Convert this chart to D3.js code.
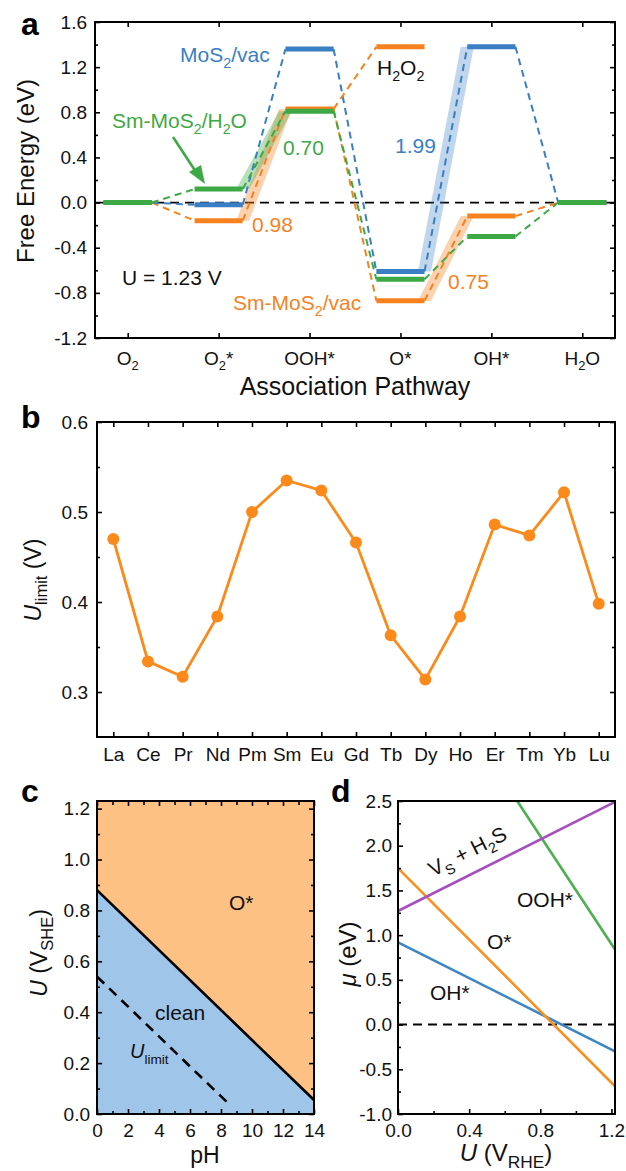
<!DOCTYPE html>
<html><head><meta charset="utf-8">
<script src="https://cdn.jsdelivr.net/npm/d3@7"></script>
<style>body{margin:0;background:#fff}svg{display:block}</style>
</head><body>
<svg id="chart" width="626" height="1171"></svg>
<script>
// ---------- DATA ----------
// panel a: free energy at U = 1.23 V
const steps = ["O2", "O2*", "OOH*", "O*", "OH*", "H2O"];
const stepLabels = [[["O"],["2",1]], [["O"],["2",1],["*"]], [["OOH*"]], [["O*"]], [["OH*"]], [["H"],["2",1],["O"]]];
const mos2Vac   = [0, -0.02, 1.36, -0.61, 1.38, 0];
const smMos2Vac = [0, -0.16, 0.83, -0.87, -0.12, 0];
const smMos2H2O = [0, 0.12, 0.81, -0.68, -0.30, 0];
const h2o2Level = 1.38;            // orange branch OOH* -> H2O2
const aYTicks = [-1.2, -0.8, -0.4, 0.0, 0.4, 0.8, 1.2, 1.6];
const aYMinor = [-1.0, -0.6, -0.2, 0.2, 0.6, 1.0, 1.4];

// panel b: limiting potential per lanthanide
const lanthanides = ["La","Ce","Pr","Nd","Pm","Sm","Eu","Gd","Tb","Dy","Ho","Er","Tm","Yb","Lu"];
const uLimit = [0.470, 0.334, 0.317, 0.384, 0.500, 0.535, 0.524, 0.466, 0.363, 0.314, 0.384, 0.486, 0.474, 0.522, 0.398];
const bYTicks = [0.3, 0.4, 0.5, 0.6];
const bYMinor = [0.35, 0.45, 0.55];

// panel c: Pourbaix diagram
const boundaryPH = [0, 14];
const boundaryU  = [0.88, 0.055];
const uLimitPH = [0, 8.5];
const uLimitU  = [0.54, 0.04];
const cXTicks = [0, 2, 4, 6, 8, 10, 12, 14];
const cXMinor = [1, 3, 5, 7, 9, 11, 13];
const cYTicks = [0.0, 0.2, 0.4, 0.6, 0.8, 1.0, 1.2];
const cYMinor = [0.1, 0.3, 0.5, 0.7, 0.9, 1.1];

// panel d: chemical potential vs U
const vsU  = [0, 1.22];       const vsMu  = [1.27, 2.49];   // V_S + H2S
const oohU = [0.67, 1.22];    const oohMu = [2.50, 0.84];   // OOH*
const oU   = [0, 1.22];       const oMu   = [1.75, -0.69];  // O*
const ohU  = [0, 1.22];       const ohMu  = [0.92, -0.30];  // OH*
const dXTicks = [0.0, 0.4, 0.8, 1.2];
const dXMinor = [0.2, 0.6, 1.0];
const dYTicks = [-1.0, -0.5, 0.0, 0.5, 1.0, 1.5, 2.0, 2.5];
const dYMinor = [-0.75, -0.25, 0.25, 0.75, 1.25, 1.75, 2.25];

// ---------- STYLE ----------
const FONT = "Arial, 'Liberation Sans', Helvetica, sans-serif";
const BLUE = "#3a7ec3", ORANGE = "#f6821f", GREEN = "#3da944";
const svg = d3.select("#chart");

function axis(gen, tx, ty, size) {
  const a = svg.append("g").attr("transform", `translate(${tx},${ty})`).call(gen);
  a.select(".domain").remove();
  a.selectAll(".tick line").attr("stroke", "#000").attr("stroke-width", 1.6);
  a.selectAll(".tick text").attr("font-size", size || 19).attr("font-family", FONT).attr("fill", "#111");
  return a;
}
function frame(x0, y0, x1, y1) {
  svg.append("rect").attr("x", x0).attr("y", y0).attr("width", x1 - x0).attr("height", y1 - y0)
    .attr("fill", "none").attr("stroke", "#000").attr("stroke-width", 2);
}
// rich text: parts = [[text, sub?, italic?], ...]
function rich(x, y, parts, size, color, opts) {
  opts = opts || {};
  const t = svg.append("text").attr("x", x).attr("y", y).attr("font-family", FONT)
    .attr("font-size", size).attr("fill", color || "#111")
    .attr("text-anchor", opts.anchor || "start");
  if (opts.weight) t.attr("font-weight", opts.weight);
  if (opts.rotate !== undefined) t.attr("transform", `rotate(${opts.rotate},${x},${y})`);
  let shift = 0;
  const subScale = opts.subScale || 0.68;
  parts.forEach(p => {
    const ts = t.append("tspan").text(p[0]);
    if (p[1]) {
      ts.attr("font-size", size * subScale).attr("dy", size * 0.28 - shift);
      shift = size * 0.28;
    } else if (shift) { ts.attr("dy", -shift); shift = 0; }
    if (p[2]) ts.attr("font-style", "italic");
  });
  return t;
}

// ================= PANEL A =================
const aL = 95, aR = 615, aT = 22, aB = 338;
const ax = d3.scalePoint().domain(steps).range([aL, aR]).padding(0.36);
const ay = d3.scaleLinear().domain([-1.2, 1.6]).range([aB, aT]);
const hw = ax.step() * 0.265;

// zero line
svg.append("line").attr("x1", aL).attr("x2", aR).attr("y1", ay(0)).attr("y2", ay(0))
  .attr("stroke", "#000").attr("stroke-width", 1.8).attr("stroke-dasharray", "9,6");

const series = [
  {v: smMos2Vac, c: ORANGE, bands: [1, 3]},
  {v: mos2Vac, c: BLUE, bands: [3]},
  {v: smMos2H2O, c: GREEN, bands: [1]}
];
// shaded rate-limiting bands
series.forEach(s => {
  s.bands.forEach(i => {
    const x0 = ax(steps[i]) + hw, x1 = ax(steps[i + 1]) - hw;
    const y0 = ay(s.v[i]), y1 = ay(s.v[i + 1]), w = 6.5;
    svg.append("polygon")
      .attr("points", [[x0 - w, y0], [x0 + w, y0], [x1 + w, y1], [x1 - w, y1]].map(p => p.join(",")).join(" "))
      .attr("fill", s.c).attr("opacity", s.c === BLUE ? 0.32 : 0.36);
  });
});
// dashed connectors
function connector(x0, v0, x1, v1, c) {
  svg.append("line").attr("x1", x0).attr("y1", ay(v0)).attr("x2", x1).attr("y2", ay(v1))
    .attr("stroke", c).attr("stroke-width", 2).attr("stroke-dasharray", "7,5");
}
series.forEach(s => {
  for (let i = 0; i < steps.length - 1; i++)
    connector(ax(steps[i]) + hw, s.v[i], ax(steps[i + 1]) - hw, s.v[i + 1], s.c);
});
connector(ax("OOH*") + hw, smMos2Vac[2], ax("O*") - hw, h2o2Level, ORANGE);
// levels
function level(xc, v, c) {
  svg.append("line").attr("x1", xc - hw).attr("x2", xc + hw).attr("y1", ay(v)).attr("y2", ay(v))
    .attr("stroke", c).attr("stroke-width", 5);
}
level(ax("O*"), h2o2Level, ORANGE);
series.forEach(s => s.v.forEach((v, i) => level(ax(steps[i]), v, s.c)));

// axes a
axis(d3.axisLeft(ay).tickValues(aYTicks).tickFormat(d => d.toFixed(1)).tickSizeInner(-5).tickSizeOuter(0).tickPadding(8), aL, 0);
axis(d3.axisLeft(ay).tickValues(aYMinor).tickFormat("").tickSizeInner(-3).tickSizeOuter(0), aL, 0);
axis(d3.axisRight(ay).tickValues(aYTicks).tickFormat("").tickSizeInner(-5).tickSizeOuter(0), aR, 0);
axis(d3.axisRight(ay).tickValues(aYMinor).tickFormat("").tickSizeInner(-3).tickSizeOuter(0), aR, 0);
axis(d3.axisBottom(ax).tickFormat("").tickSizeInner(-5).tickSizeOuter(0), 0, aB);
axis(d3.axisTop(ax).tickFormat("").tickSizeInner(-5).tickSizeOuter(0), 0, aT);
frame(aL, aT, aR, aB);
steps.forEach((s, i) => rich(ax(s), aB + 27, stepLabels[i].map(p => [p[0], p[1]]), 19, "#111", {anchor: "middle"}));
rich(aL + (aR - aL) / 2 + 0, 395, [["Association Pathway"]], 25, "#111", {anchor: "middle"});
rich(34, 171, [["Free Energy (eV)"]], 24, "#111", {anchor: "middle", rotate: -90});

// annotations a
rich(180, 62, [["MoS"], ["2", 1], ["/vac"]], 21, BLUE);
rich(112, 128, [["Sm-MoS"], ["2", 1], ["/H"], ["2", 1], ["O"]], 21, GREEN);
svg.append("line").attr("x1", 173).attr("y1", 137).attr("x2", 196).attr("y2", 172)
  .attr("stroke", GREEN).attr("stroke-width", 2.6);
svg.append("polygon").attr("points", "205,184 189,172 201,165").attr("fill", GREEN);
rich(283, 155, [["0.70"]], 21, GREEN);
rich(395, 153, [["1.99"]], 21, BLUE);
rich(377, 75, [["H"], ["2", 1], ["O"], ["2", 1]], 21, "#111");
rich(252, 232, [["0.98"]], 21, ORANGE);
rich(122, 285, [["U = 1.23 V"]], 21, "#111");
rich(233, 310, [["Sm-MoS"], ["2", 1], ["/vac"]], 21, ORANGE);
rich(448, 289, [["0.75"]], 21, ORANGE);
rich(21, 35, [["a"]], 32, "#000", {weight: "bold"});

// ================= PANEL B =================
const bL = 97, bR = 615, bT = 422, bB = 737;
const bx = d3.scalePoint().domain(lanthanides).range([bL, bR]).padding(0.47);
const by = d3.scaleLinear().domain([0.25, 0.6]).range([bB, bT]);
const BOR = "#fb8a1a";
svg.append("path").datum(uLimit)
  .attr("d", d3.line().x((d, i) => bx(lanthanides[i])).y(d => by(d)))
  .attr("fill", "none").attr("stroke", BOR).attr("stroke-width", 2.8);
svg.selectAll(".bdot").data(uLimit).enter().append("circle")
  .attr("cx", (d, i) => bx(lanthanides[i])).attr("cy", d => by(d)).attr("r", 6).attr("fill", BOR);
axis(d3.axisLeft(by).tickValues(bYTicks).tickFormat(d => d.toFixed(1)).tickSizeInner(-5).tickSizeOuter(0).tickPadding(9), bL, 0);
axis(d3.axisLeft(by).tickValues(bYMinor).tickFormat("").tickSizeInner(-3).tickSizeOuter(0), bL, 0);
axis(d3.axisRight(by).tickValues(bYTicks).tickFormat("").tickSizeInner(-5).tickSizeOuter(0), bR, 0);
axis(d3.axisRight(by).tickValues(bYMinor).tickFormat("").tickSizeInner(-3).tickSizeOuter(0), bR, 0);
axis(d3.axisBottom(bx).tickSizeInner(-5).tickSizeOuter(0).tickPadding(11), 0, bB);
axis(d3.axisTop(bx).tickFormat("").tickSizeInner(-5).tickSizeOuter(0), 0, bT);
frame(bL, bT, bR, bB);
rich(41, 580, [["U", 0, 1], ["limit", 1], [" (V)"]], 23, "#111", {anchor: "middle", rotate: -90, subScale: 0.72});
rich(21, 428, [["b"]], 32, "#000", {weight: "bold"});

// ================= PANEL C =================
const cL = 97, cR = 314, cT = 801, cB = 1114;
const cx = d3.scaleLinear().domain([0, 14]).range([cL, cR]);
const cy = d3.scaleLinear().domain([0, 1.23]).range([cB, cT]);
const cTopU = cy.domain()[1];
svg.append("path")
  .attr("d", d3.line()([[cx(boundaryPH[0]), cy(boundaryU[0])], [cx(boundaryPH[1]), cy(boundaryU[1])], [cx(14), cy(cTopU)], [cx(0), cy(cTopU)]]) + "Z")
  .attr("fill", "#fdc283");
svg.append("path")
  .attr("d", d3.line()([[cx(0), cy(0)], [cx(14), cy(0)], [cx(boundaryPH[1]), cy(boundaryU[1])], [cx(boundaryPH[0]), cy(boundaryU[0])]]) + "Z")
  .attr("fill", "#9fc5e8");
svg.append("line").attr("x1", cx(boundaryPH[0])).attr("y1", cy(boundaryU[0])).attr("x2", cx(boundaryPH[1])).attr("y2", cy(boundaryU[1]))
  .attr("stroke", "#000").attr("stroke-width", 2.6);
svg.append("line").attr("x1", cx(uLimitPH[0])).attr("y1", cy(uLimitU[0])).attr("x2", cx(uLimitPH[1])).attr("y2", cy(uLimitU[1]))
  .attr("stroke", "#000").attr("stroke-width", 2.6).attr("stroke-dasharray", "10,7");
axis(d3.axisLeft(cy).tickValues(cYTicks).tickFormat(d => d.toFixed(1)).tickSizeInner(-5).tickSizeOuter(0).tickPadding(7), cL, 0);
axis(d3.axisLeft(cy).tickValues(cYMinor).tickFormat("").tickSizeInner(-3).tickSizeOuter(0), cL, 0);
axis(d3.axisRight(cy).tickValues(cYTicks).tickFormat("").tickSizeInner(-5).tickSizeOuter(0), cR, 0);
axis(d3.axisRight(cy).tickValues(cYMinor).tickFormat("").tickSizeInner(-3).tickSizeOuter(0), cR, 0);
axis(d3.axisBottom(cx).tickValues(cXTicks).tickFormat(d3.format("d")).tickSizeInner(-5).tickSizeOuter(0).tickPadding(10), 0, cB);
axis(d3.axisBottom(cx).tickValues(cXMinor).tickFormat("").tickSizeInner(-3).tickSizeOuter(0), 0, cB);
axis(d3.axisTop(cx).tickValues(cXTicks).tickFormat("").tickSizeInner(-5).tickSizeOuter(0), 0, cT);
axis(d3.axisTop(cx).tickValues(cXMinor).tickFormat("").tickSizeInner(-4).tickSizeOuter(0), 0, cT);
frame(cL, cT, cR, cB);
rich(229, 910, [["O*"]], 21, "#111");
rich(155, 1020, [["clean"]], 21, "#111");
rich(130, 1058, [["U", 0, 1], ["limit", 1]], 20, "#111");
rich(205, 1163, [["pH"]], 23, "#111", {anchor: "middle"});
rich(47, 953, [["U", 0, 1], [" (V"], ["SHE", 1], [")"]], 23, "#111", {anchor: "middle", rotate: -90, subScale: 0.72});
rich(21, 802, [["c"]], 32, "#000", {weight: "bold"});

// ================= PANEL D =================
const dL = 398, dR = 615, dT = 801, dB = 1114;
const dx = d3.scaleLinear().domain([0, 1.22]).range([dL, dR]);
const dy = d3.scaleLinear().domain([-1, 2.5]).range([dB, dT]);
svg.append("line").attr("x1", dL).attr("x2", dR).attr("y1", dy(0)).attr("y2", dy(0))
  .attr("stroke", "#000").attr("stroke-width", 2).attr("stroke-dasharray", "9,6");
function dLine(us, mus, color) {
  svg.append("path").datum(us.map((u, i) => [u, mus[i]]))
    .attr("d", d3.line().x(d => dx(d[0])).y(d => dy(d[1])))
    .attr("fill", "none").attr("stroke", color).attr("stroke-width", 2.6);
}
dLine(ohU, ohMu, "#3d86c6");
dLine(oU, oMu, "#f7901e");
dLine(oohU, oohMu, "#4caf50");
dLine(vsU, vsMu, "#a64fbf");
axis(d3.axisLeft(dy).tickValues(dYTicks).tickFormat(d => d.toFixed(1)).tickSizeInner(-5).tickSizeOuter(0).tickPadding(6), dL, 0);
axis(d3.axisLeft(dy).tickValues(dYMinor).tickFormat("").tickSizeInner(-3).tickSizeOuter(0), dL, 0);
axis(d3.axisBottom(dx).tickValues(dXTicks).tickFormat(d => d.toFixed(1)).tickSizeInner(-5).tickSizeOuter(0).tickPadding(10), 0, dB);
axis(d3.axisBottom(dx).tickValues(dXMinor).tickFormat("").tickSizeInner(-3).tickSizeOuter(0), 0, dB);
frame(dL, dT, dR, dB);
rich(433, 877, [["V"], ["S", 1], [" + H"], ["2", 1], ["S"]], 21, "#111", {rotate: -27});
rich(517, 907, [["OOH*"]], 21, "#111");
rich(487, 949, [["O*"]], 21, "#111");
rich(430, 1000, [["OH*"]], 21, "#111");
rich(356, 954, [["\u03BC", 0, 1], [" (eV)"]], 24, "#111", {anchor: "middle", rotate: -90});
rich(506, 1161, [["U", 0, 1], [" (V"], ["RHE", 1], [")"]], 24, "#111", {anchor: "middle", subScale: 0.72});
rich(331, 802, [["d"]], 32, "#000", {weight: "bold"});
</script>
</body></html>
